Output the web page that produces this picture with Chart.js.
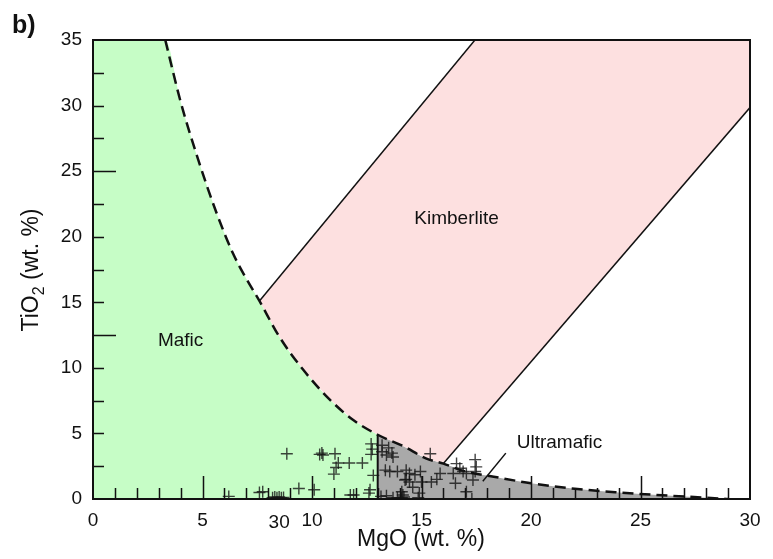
<!DOCTYPE html>
<html>
<head>
<meta charset="utf-8">
<script src="https://cdn.jsdelivr.net/npm/chart.js@4"></script>
<style>
html, body { margin: 0; padding: 0; background: #fff; }
#wrap { width: 773px; height: 559px; }
</style>
</head>
<body>
<div id="wrap"><canvas id="chart" width="773" height="559"></canvas></div>
<script>
// dashed mafic / ultramafic boundary
const curveMgO  = [3.3, 4.0, 4.8, 5.6, 6.4, 7.0, 7.6, 8.5, 9.6, 10.8, 11.9, 13.0, 14.2, 15.2, 16.0, 17.0, 18.3, 20.0, 22.0, 24.0, 26.0, 28.0, 29.0];
const curveTiO2 = [35, 30.3, 25.9, 22.0, 18.7, 16.8, 15.1, 12.4, 9.85, 7.6, 6.0, 4.9, 4.0, 3.1, 2.7, 2.1, 1.7, 1.2, 0.78, 0.5, 0.28, 0.1, 0];

// kimberlite field edges
const kimbUpperMgO  = [7.6, 17.44];
const kimbUpperTiO2 = [15.1, 35];
const kimbLowerMgO  = [16.0, 30];
const kimbLowerTiO2 = [2.7, 29.85];

// samples
const sampleMgO = [
  6.2, 7.6, 7.75, 8.2, 8.3, 8.4, 8.5, 8.6, 8.7, 8.85, 9.4, 10.1, 10.35, 10.45, 10.5, 11.05,
  11.2, 11.7, 12.3, 11.1, 11.0, 11.75, 11.9, 12.6, 12.7, 12.75, 12.7, 12.8, 12.65,
  13.2, 13.4, 13.65, 13.7, 13.2, 13.5, 15.4, 13.35, 13.55, 13.9, 14.3, 14.45, 14.7, 14.95,
  14.25, 14.45, 15.0, 15.45, 15.7, 15.85, 14.1, 14.15, 14.1, 14.2, 14.9, 14.85, 13.15,
  13.4, 13.7, 13.9, 16.6, 16.75, 16.45, 16.55, 16.9, 17.05, 17.45, 17.5, 17.45, 17.35,
  17.05, 17.3, 14.3, 14.6
];
const sampleTiO2 = [
  0.2, 0.5, 0.55, 0.1, 0.15, 0.1, 0.15, 0.1, 0.12, 3.45, 0.8, 0.7, 3.4, 3.5, 3.35, 3.45,
  2.75, 2.75, 2.75, 2.4, 1.9, 0.3, 0.3, 0.45, 4.2, 3.8, 3.4, 1.8, 0.7,
  3.6, 3.35, 3.5, 3.2, 4.1, 3.9, 3.45, 2.2, 2.1, 2.1, 2.2, 1.95, 1.85, 2.1,
  1.45, 1.3, 1.3, 1.3, 1.5, 1.95, 0.55, 0.3, 0.1, 0.15, 0.45, 0.1, 0.2,
  0.25, 0.1, 0.1, 2.7, 2.35, 1.95, 1.2, 2.1, 1.95, 3.0, 2.45, 2.1, 1.45,
  0.55, 0.0, 1.5, 0.9
];

// axis ticks
const xTickLabels = [0, 5, 10, 15, 20, 25, 30];
const yTickLabels = [0, 5, 10, 15, 20, 25, 30, 35];
const xInnerTicks = [1, 2, 3, 4, 5, 6, 7, 8, 9, 10, 11, 12, 13, 14, 15, 16, 17, 18, 19, 20, 21, 22, 23, 24, 25, 26, 27, 28, 29];
const yInnerTicks = [2.5, 5, 7.5, 10, 12.5, 15, 17.5, 20, 22.5, 25, 27.5, 30, 32.5];

// field labels
const fieldLabels = [
  { text: 'Mafic', x: 4.0, y: 12.1 },
  { text: 'Kimberlite', x: 16.6, y: 21.4 },
  { text: 'Ultramafic', x: 21.3, y: 4.3 }
];
const leaderMgO  = [18.85, 17.8];
const leaderTiO2 = [3.5, 1.35];

const zip = (xs, ys) => xs.map((v, i) => ({ x: v, y: ys[i] }));

const curve = zip(curveMgO, curveTiO2);
const maficPart = [{ x: 0, y: 35 }].concat(curve.filter(p => p.x <= 13));
const ultraPart = curve.filter(p => p.x >= 13);
// kimberlite polygon: upper edge, top, right side, lower edge, then back along the curve
const kimbPoly = [
  { x: kimbUpperMgO[1], y: kimbUpperTiO2[1] },
  { x: 30, y: 35 },
  { x: kimbLowerMgO[1], y: kimbLowerTiO2[1] },
  { x: kimbLowerMgO[0], y: kimbLowerTiO2[0] }
].concat(curve.filter(p => p.x < kimbLowerMgO[0] && p.x >= kimbUpperMgO[0]).reverse());

const FONT = '"Liberation Sans", Arial, sans-serif';

const decor = {
  id: 'decor',
  afterDatasetsDraw(chart) {
    const { ctx, chartArea: a, scales: { x, y } } = chart;
    ctx.save();
    ctx.strokeStyle = '#111';
    ctx.lineWidth = 1.5;
    ctx.beginPath();
    xInnerTicks.forEach(v => {
      const px = Math.round(x.getPixelForValue(v)) + 0.5;
      const len = v % 5 === 0 ? 23 : 11;
      ctx.moveTo(px, a.bottom);
      ctx.lineTo(px, a.bottom - len);
    });
    yInnerTicks.forEach(v => {
      const py = Math.round(y.getPixelForValue(v)) + 0.5;
      const len = v % 12.5 === 0 ? 23 : 11;
      ctx.moveTo(a.left, py);
      ctx.lineTo(a.left + len, py);
    });
    ctx.stroke();

    ctx.lineWidth = 2;
    ctx.strokeRect(a.left, a.top, a.right - a.left, a.bottom - a.top);

    ctx.fillStyle = '#111';
    ctx.textAlign = 'center';
    ctx.textBaseline = 'middle';
    ctx.font = '19px ' + FONT;
    fieldLabels.forEach(l => {
      ctx.fillText(l.text, x.getPixelForValue(l.x), y.getPixelForValue(l.y));
    });
    // stray label under the axis
    ctx.fillText('30', x.getPixelForValue(8.5), 523);

    // axis titles
    ctx.font = '23px ' + FONT;
    ctx.fillText('MgO (wt. %)', 421, 540);

    ctx.translate(30, 270);
    ctx.rotate(-Math.PI / 2);
    ctx.textAlign = 'left';
    ctx.textBaseline = 'alphabetic';
    const t1 = 'TiO', t2 = '2', t3 = ' (wt. %)';
    ctx.font = '23px ' + FONT;
    const w1 = ctx.measureText(t1).width, w3 = ctx.measureText(t3).width;
    ctx.font = '16px ' + FONT;
    const w2 = ctx.measureText(t2).width;
    const sx = -(w1 + w2 + w3) / 2;
    ctx.font = '23px ' + FONT;
    ctx.fillText(t1, sx, 8);
    ctx.font = '16px ' + FONT;
    ctx.fillText(t2, sx + w1, 14);
    ctx.font = '23px ' + FONT;
    ctx.fillText(t3, sx + w1 + w2, 8);
    ctx.restore();

    ctx.save();
    ctx.fillStyle = '#111';
    ctx.font = 'bold 25px ' + FONT;
    ctx.textAlign = 'left';
    ctx.textBaseline = 'alphabetic';
    ctx.fillText('b)', 12, 33);
    ctx.restore();
  }
};

// first dataset in the list is drawn on top
new Chart(document.getElementById('chart'), {
  type: 'scatter',
  data: {
    datasets: [
      {
        data: zip(sampleMgO, sampleTiO2), pointStyle: 'cross', pointRadius: 6,
        borderColor: 'rgba(20,20,20,0.8)', borderWidth: 1.4, backgroundColor: 'transparent'
      },
      {
        data: curve, showLine: true, pointRadius: 0, borderColor: '#111', borderWidth: 2.5,
        borderDash: [11, 6], cubicInterpolationMode: 'monotone'
      },
      {
        data: zip(leaderMgO, leaderTiO2), showLine: true, pointRadius: 0,
        borderColor: '#111', borderWidth: 1.5
      },
      {
        data: [{ x: 13, y: 0 }, { x: 13, y: 4.9 }], showLine: true, pointRadius: 0,
        borderColor: '#111', borderWidth: 2
      },
      {
        data: zip(kimbUpperMgO, kimbUpperTiO2), showLine: true, pointRadius: 0,
        borderColor: '#111', borderWidth: 1.5
      },
      {
        data: zip(kimbLowerMgO, kimbLowerTiO2), showLine: true, pointRadius: 0,
        borderColor: '#111', borderWidth: 1.5
      },
      {
        data: kimbPoly, showLine: true, pointRadius: 0, borderWidth: 0,
        backgroundColor: '#fde0e0', fill: 'shape', tension: 0
      },
      {
        data: ultraPart, showLine: true, pointRadius: 0, borderWidth: 0,
        backgroundColor: '#a9a9a9', fill: 'origin', cubicInterpolationMode: 'monotone'
      },
      {
        data: maficPart, showLine: true, pointRadius: 0, borderWidth: 0,
        backgroundColor: '#c6fdc6', fill: 'origin', cubicInterpolationMode: 'monotone'
      }
    ]
  },
  options: {
    responsive: false,
    animation: false,
    layout: { padding: { left: 0, top: 40, right: 23, bottom: 0 } },
    plugins: { legend: { display: false }, tooltip: { enabled: false } },
    scales: {
      x: {
        type: 'linear', min: 0, max: 30,
        afterFit: s => { s.height = 60; },
        afterBuildTicks: s => { s.ticks = xTickLabels.map(v => ({ value: v })); },
        grid: { display: false },
        border: { color: '#111', width: 2 },
        ticks: { color: '#111', padding: 2, maxRotation: 0, autoSkip: false, font: { size: 19, family: FONT } }
      },
      y: {
        type: 'linear', min: 0, max: 35,
        afterFit: s => { s.width = 93; },
        afterBuildTicks: s => { s.ticks = yTickLabels.map(v => ({ value: v })); },
        grid: { display: false },
        border: { color: '#111', width: 2 },
        ticks: { color: '#111', padding: 3, autoSkip: false, font: { size: 19, family: FONT } }
      }
    }
  },
  plugins: [decor]
});
</script>
</body>
</html>
